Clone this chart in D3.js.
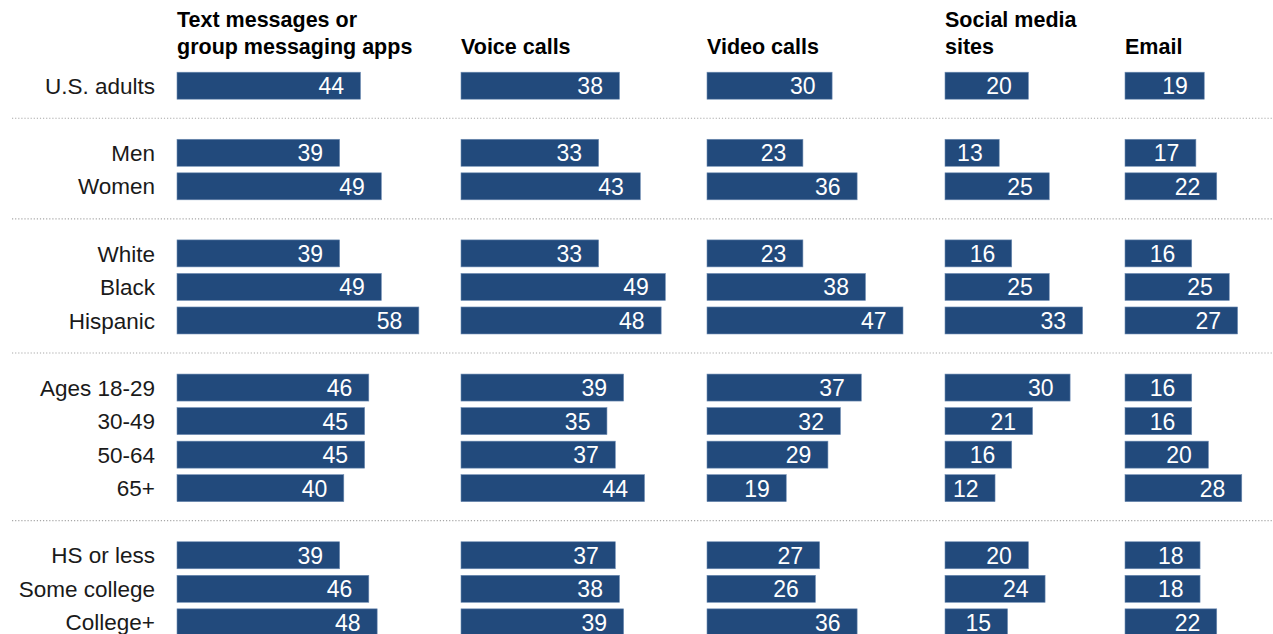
<!DOCTYPE html>
<html>
<head>
<meta charset="utf-8">
<script src="https://cdn.jsdelivr.net/npm/d3@7"></script>
<style>
  html, body { margin: 0; padding: 0; background: #fff; }
  svg { display: block; }
  text { font-family: "Liberation Sans", Arial, sans-serif; }
</style>
</head>
<body>
<svg id="chart" width="1273" height="634"></svg>
<script>
// Row groups (each group separated by a dotted rule)
const groups = [
  ["U.S. adults"],
  ["Men", "Women"],
  ["White", "Black", "Hispanic"],
  ["Ages 18-29", "30-49", "50-64", "65+"],
  ["HS or less", "Some college", "College+"]
];

// Column headings, one per panel (line-broken)
const channelTitles = [
  ["Text messages or", "group messaging apps"],
  ["Voice calls"],
  ["Video calls"],
  ["Social media", "sites"],
  ["Email"]
];

// Percent values, in row order
const textMessages = [44, 39, 49, 39, 49, 58, 46, 45, 45, 40, 39, 46, 48];
const voiceCalls   = [38, 33, 43, 33, 49, 48, 39, 35, 37, 44, 37, 38, 39];
const videoCalls   = [30, 23, 36, 23, 38, 47, 37, 32, 29, 19, 27, 26, 36];
const socialMedia  = [20, 13, 25, 16, 25, 33, 30, 21, 16, 12, 20, 24, 15];
const email        = [19, 17, 22, 16, 25, 27, 16, 16, 20, 28, 18, 18, 22];

const series = [textMessages, voiceCalls, videoCalls, socialMedia, email];

// ---- layout ----
const W = 1273, H = 634;
const panelLeft = [177, 461, 707, 945, 1125];
const panelWidth = 417;          // width of 100%
const labelRight = 155;
const barColor = "#224a7c";

const svg = d3.select("#chart");

// Build row keys, with a spacer row between groups
const rowKeys = [];
const categories = [];
const spacers = [];
groups.forEach((g, gi) => {
  if (gi > 0) { const k = "gap" + gi; rowKeys.push(k); spacers.push(k); }
  g.forEach(c => { rowKeys.push(c); categories.push(c); });
});

const step = 33.54;
const firstCenter = 85.7;
const y = d3.scaleBand()
  .domain(rowKeys)
  .range([firstCenter - step / 2, firstCenter - step / 2 + step * rowKeys.length])
  .paddingInner(0.195)
  .paddingOuter(0.0975);

const yc = k => y(k) + y.bandwidth() / 2;

// Dotted separators
svg.append("g").selectAll("line")
  .data(spacers)
  .join("line")
  .attr("x1", 12).attr("x2", W)
  .attr("y1", k => yc(k) - 1).attr("y2", k => yc(k) - 1)
  .attr("stroke", "#a8a8a8")
  .attr("stroke-width", 1.2)
  .attr("stroke-dasharray", "1.2,1.9");

// Row labels
svg.append("g").selectAll("text")
  .data(categories)
  .join("text")
  .attr("x", labelRight)
  .attr("y", d => yc(d))
  .attr("dy", "0.36em")
  .attr("text-anchor", "end")
  .attr("font-size", 22.5)
  .attr("fill", "#1a1a1a")
  .text(d => d);

// Panels
series.forEach((vals, pi) => {
  const x = d3.scaleLinear().domain([0, 100]).range([panelLeft[pi], panelLeft[pi] + panelWidth]);
  const g = svg.append("g");

  // heading
  const lines = channelTitles[pi];
  const lastBase = 54.3, lh = 27.7;
  const t = g.append("text")
    .attr("font-size", 21.5)
    .attr("font-weight", "bold")
    .attr("fill", "#000");
  lines.forEach((ln, i) => {
    t.append("tspan")
      .attr("x", x(0))
      .attr("y", lastBase - (lines.length - 1 - i) * lh)
      .text(ln);
  });

  const rows = categories.map((c, i) => ({ c, v: vals[i] }));

  g.selectAll("rect")
    .data(rows)
    .join("rect")
    .attr("x", x(0))
    .attr("y", d => y(d.c))
    .attr("width", d => x(d.v) - x(0))
    .attr("height", y.bandwidth())
    .attr("fill", barColor)
    .attr("stroke", "#6f8db3")
    .attr("stroke-width", 0.6);

  g.selectAll("text.val")
    .data(rows)
    .join("text")
    .attr("class", "val")
    .attr("x", d => x(d.v) - 16.5)
    .attr("y", d => yc(d.c))
    .attr("dy", "0.37em")
    .attr("text-anchor", "end")
    .attr("font-size", 23)
    .attr("fill", "#fff")
    .text(d => d.v);
});
</script>
</body>
</html>
